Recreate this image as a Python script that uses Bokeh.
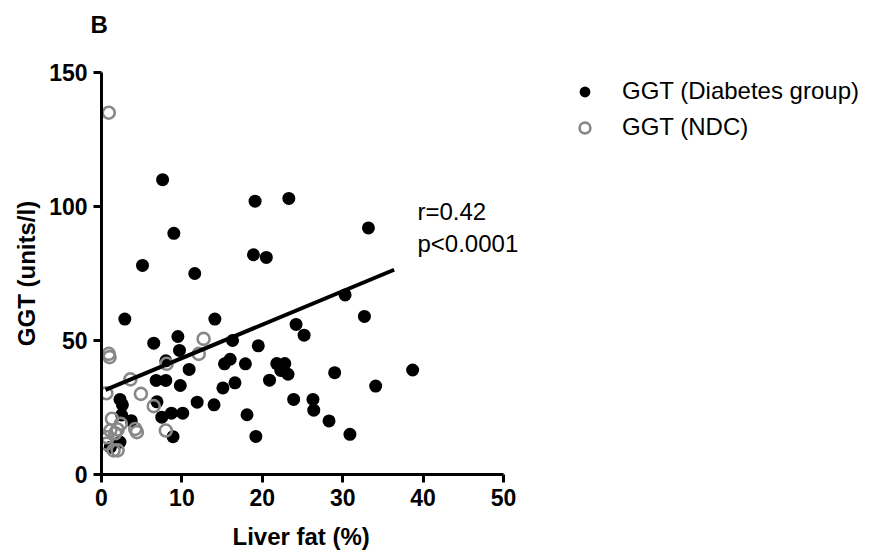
from bokeh.plotting import figure
from bokeh.models import Range1d, Legend, LegendItem, Label, Title, FixedTicker
from bokeh.embed import file_html
from bokeh.resources import INLINE

# ---- data ----
dm_fat = [7.6, 19.1, 23.3, 9.0, 33.2, 5.1, 11.6, 18.9, 20.5, 30.3,
          2.9, 14.1, 24.2, 32.7, 25.2, 29.0, 38.7, 34.1, 23.9, 26.3,
          26.4, 28.3, 30.9, 16.3, 19.5, 15.3, 16.0, 17.9, 21.8, 22.8,
          22.3, 23.2, 15.1, 16.6, 20.9, 11.9, 14.0, 18.1, 19.2, 6.5,
          9.5, 9.7, 8.0, 10.9, 6.8, 8.0, 9.8, 2.3, 2.6, 6.9,
          2.5, 3.7, 7.5, 8.7, 10.1, 8.9, 2.3, 1.1]
dm_ggt = [110, 102, 103, 90, 92, 78, 75, 82, 81, 67,
          58, 58, 56, 59, 52, 38, 39, 33, 28, 28,
          24, 20, 15, 50, 48, 41.3, 43, 41.3, 41.4, 41.4,
          38.8, 37.4, 32.3, 34.2, 35.2, 27, 26, 22.3, 14.2, 49,
          51.5, 46.3, 42.4, 39.2, 35.1, 35.1, 33.2, 28, 26, 27.1,
          22.2, 20.1, 21.4, 22.9, 22.9, 14.1, 12.1, 10.2]

ndc_fat = [0.9, 0.9, 1.0, 0.6, 3.6, 4.9, 6.5, 8.1, 8.0, 12.7,
           12.1, 1.3, 2.4, 1.1, 0.7, 1.7, 4.2, 4.4, 1.5, 2.0,
           0.6, 2.0]
ndc_ggt = [135, 45, 43.8, 30.3, 35.5, 30.1, 25.5, 41.3, 16.4, 50.6,
           45, 20.8, 18.9, 16.4, 13.9, 15.4, 17, 15.8, 9, 9,
           11.5, 16.8]

fit_fat = [0.5, 36.4]
fit_ggt = [31.6, 76.4]

x_ticks = [0, 10, 20, 30, 40, 50]
y_ticks = [0, 50, 100, 150]
x_axis_span = (0, 50)
x_view_end = 96.27   # frame extends to the right edge so texts are not clipped

stats_text = "r=0.42\np<0.0001"
stats_x, stats_y = 39.3, 103

FONT = "Liberation Sans"

p = figure(width=875, height=558, output_backend="svg", toolbar_location=None,
           x_range=Range1d(0, x_view_end), y_range=Range1d(0, 150),
           min_border_left=101, min_border_right=0,
           min_border_top=72, min_border_bottom=84)
p.outline_line_color = None
p.grid.visible = False
p.background_fill_color = "white"

for ax in (p.xaxis[0], p.yaxis[0]):
    ax.axis_line_width = 3
    ax.major_tick_line_width = 3
    ax.major_tick_out = 8
    ax.major_tick_in = 0
    ax.minor_tick_line_color = None
    ax.major_label_text_font = FONT
    ax.major_label_text_font_style = "bold"
    ax.major_label_text_font_size = "23px"
    ax.major_label_text_color = "black"
    ax.axis_label_text_font = FONT
    ax.axis_label_text_font_style = "bold"
    ax.axis_label_text_font_size = "24px"
    ax.axis_label_text_color = "black"
    ax.major_label_standoff = 6

p.xaxis[0].ticker = FixedTicker(ticks=x_ticks)
p.xaxis[0].bounds = x_axis_span
p.yaxis[0].ticker = FixedTicker(ticks=y_ticks)
p.yaxis[0].axis_label = "GGT (units/l)"
p.yaxis[0].axis_label_standoff = 6

r_dm = p.scatter(dm_fat, dm_ggt, size=13, fill_color="black", line_color=None)
r_ndc = p.scatter(ndc_fat, ndc_ggt, size=12, fill_color=None,
                  line_color="#888888", line_width=2.6)
p.line(fit_fat, fit_ggt, line_color="black", line_width=4)

lab = Label(x=stats_x, y=stats_y, text=stats_text, text_font=FONT,
            text_font_size="24px", text_baseline="top", text_align="left",
            text_line_height=1.17, text_color="black")
p.add_layout(lab)

legend = Legend(items=[LegendItem(label="GGT (Diabetes group)", renderers=[r_dm]),
                       LegendItem(label="GGT (NDC)", renderers=[r_ndc])],
                location=(470, 333), label_text_font=FONT, label_text_color="black",
                label_text_font_size="24px", glyph_width=27, glyph_height=27,
                label_height=28, spacing=8, label_standoff=24, padding=0,
                margin=0, border_line_color=None, background_fill_alpha=0)
p.add_layout(legend)

# x-axis title, centred under the 0-50 axis span
xt = Title(text="Liver fat (%)", text_font=FONT, text_font_size="24px",
           text_color="black", text_font_style="bold", align="left",
           offset=131, standoff=0,
           padding=dict(left=0, right=0, top=12, bottom=0))
p.add_layout(xt, "below")

t = Title(text="B", text_font=FONT, text_font_size="24px", text_color="black",
          text_font_style="bold", align="left", offset=-11, standoff=0,
          padding=dict(left=0, right=0, top=0, bottom=35))
p.add_layout(t, "above")

open("out.html", "w").write(file_html(p, INLINE))
